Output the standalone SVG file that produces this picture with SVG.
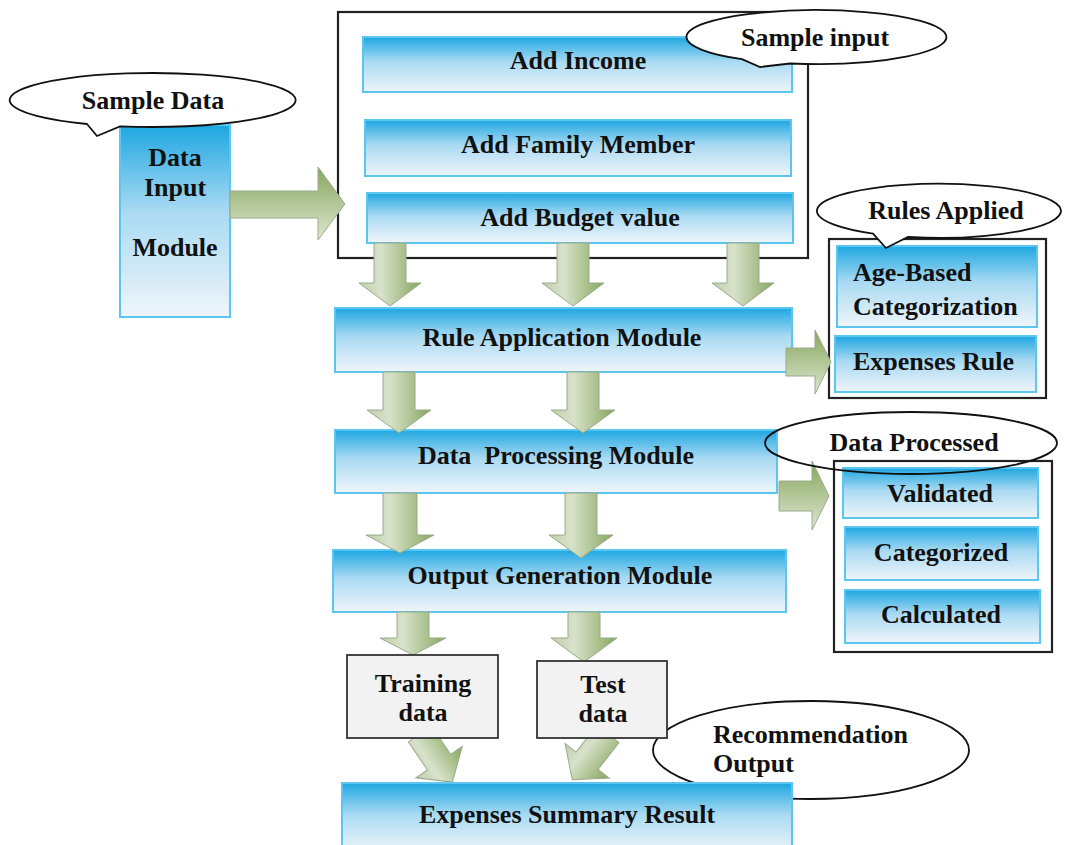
<svg xmlns="http://www.w3.org/2000/svg" width="1068" height="845" viewBox="0 0 1068 845">
<style>
text{font-family:"Liberation Serif","Times New Roman",serif;font-weight:bold;font-size:26px;fill:#111}
.c{text-anchor:middle}
.bar{fill:url(#blue);stroke:#5CC6F0;stroke-width:2}
.frame{fill:#fff;stroke:#222;stroke-width:2.2}
.gray{fill:#F2F2F2;stroke:#333;stroke-width:1.8}
.call{fill:#fff;stroke:#111;stroke-width:1.8}
.dn{fill:url(#gdn);stroke:#9AAA8C;stroke-width:1}
.rt{fill:url(#grt);stroke:#9AAA8C;stroke-width:1}
</style>
<defs>
<linearGradient id="blue" x1="0" y1="0" x2="0" y2="1">
<stop offset="0" stop-color="#1EA7E1"/><stop offset="0.45" stop-color="#A9DAF2"/><stop offset="1" stop-color="#EFF5FA"/>
</linearGradient>
<linearGradient id="gdn" x1="0" y1="0" x2="1" y2="0">
<stop offset="0" stop-color="#BFCDAA"/><stop offset="0.35" stop-color="#D8E2CA"/><stop offset="1" stop-color="#86A65E"/>
</linearGradient>
<linearGradient id="grt" x1="0" y1="0" x2="0" y2="1">
<stop offset="0" stop-color="#86A65E"/><stop offset="1" stop-color="#DDE7D0"/>
</linearGradient>
</defs>

<g id="input-container"><rect class="frame" x="338" y="12" width="470" height="246"/></g>
<g id="rules-container"><rect class="frame" x="829" y="239" width="217" height="159"/></g>
<g id="processed-container"><rect class="frame" x="834" y="461" width="218" height="191"/></g>

<g id="data-input-module"><rect class="bar" x="120" y="125" width="110" height="192"/>
<text class="c" x="175" y="166">Data</text><text class="c" x="175" y="196">Input</text><text class="c" x="175" y="256">Module</text></g>

<g id="add-income"><rect class="bar" x="363" y="37" width="429" height="55"/><text class="c" x="578" y="69">Add Income</text></g>
<g id="add-family"><rect class="bar" x="365" y="120" width="426" height="56"/><text class="c" x="578" y="153">Add Family Member</text></g>
<g id="add-budget"><rect class="bar" x="367" y="193" width="426" height="50"/><text class="c" x="580" y="226">Add Budget value</text></g>

<g id="rule-application"><rect class="bar" x="335" y="308" width="457" height="64"/><text class="c" x="562" y="346">Rule Application Module</text></g>
<g id="data-processing"><rect class="bar" x="335" y="430" width="442" height="63"/><text class="c" x="556" y="464" xml:space="preserve">Data  Processing Module</text></g>
<g id="output-generation"><rect class="bar" x="333" y="550" width="453" height="62"/><text class="c" x="560" y="584">Output Generation Module</text></g>

<g id="age-based"><rect class="bar" x="837" y="246" width="200" height="81"/><text x="853" y="281">Age-Based</text><text x="853" y="315">Categorization</text></g>
<g id="expenses-rule"><rect class="bar" x="835" y="336" width="201" height="56"/><text x="853" y="370">Expenses Rule</text></g>

<g id="validated"><rect class="bar" x="843" y="468" width="195" height="50"/><text class="c" x="940" y="502">Validated</text></g>
<g id="categorized"><rect class="bar" x="845" y="527" width="193" height="53"/><text class="c" x="941" y="561">Categorized</text></g>
<g id="calculated"><rect class="bar" x="845" y="590" width="195" height="53"/><text class="c" x="941" y="623">Calculated</text></g>

<g id="recommendation-output"><ellipse class="call" cx="811" cy="750" rx="158" ry="49"/><text x="713" y="743">Recommendation</text><text x="713" y="772">Output</text></g>

<g id="connectors">
<polygon class="rt" points="230,191 318,191 318,167 345,204 318,240 318,218 230,218"/>
<polygon class="dn" points="374,243 406,243 406,283 421,283 390,306 359,283 374,283"/>
<polygon class="dn" points="557,243 589,243 589,283 604,283 573,306 542,283 557,283"/>
<polygon class="dn" points="727,243 759,243 759,283 774,283 743,306 712,283 727,283"/>
<polygon class="rt" points="786,348 815,348 815,330 831,362 815,394 815,376 786,376"/>
<polygon class="dn" points="383,372 415,372 415,410 431,410 399,433 367,410 383,410"/>
<polygon class="dn" points="567,372 599,372 599,410 615,410 583,433 551,410 567,410"/>
<polygon class="rt" points="779,481 812,481 812,461 829,496 812,530 812,511 779,511"/>
<polygon class="dn" points="383,493 417,493 417,535 434,535 400,553 366,535 383,535"/>
<polygon class="dn" points="565,493 597,493 597,535 613,535 581,558 549,535 565,535"/>
<polygon class="dn" points="397,612 429,612 429,638 446,638 413,655 380,638 397,638"/>
<polygon class="dn" points="568,612 600,612 600,638 617,638 584,662 551,638 568,638"/>
<polygon class="dn" transform="translate(420,734) rotate(-34)" points="-14,0 14,0 14,34 28,34 0,58 -28,34 -14,34"/>
<polygon class="dn" transform="translate(608,734) rotate(38)" points="-14,0 14,0 14,34 28,34 0,58 -28,34 -14,34"/>
</g>

<g id="training-data"><rect class="gray" x="347" y="655" width="151" height="83"/><text class="c" x="423" y="692">Training</text><text class="c" x="423" y="721">data</text></g>
<g id="test-data"><rect class="gray" x="537" y="661" width="130" height="77"/><text class="c" x="603" y="693">Test</text><text class="c" x="603" y="722">data</text></g>

<g id="expenses-summary"><rect class="bar" x="342" y="783" width="450" height="70"/><text class="c" x="567" y="823">Expenses Summary Result</text></g>

<g id="sample-data"><path class="call" d="M120,126.3 A143,27 0 1 0 87,124 L97,136 Z"/><text class="c" x="153" y="109">Sample Data</text></g>
<g id="sample-input"><path class="call" d="M790,63.5 A130,27 0 1 0 742,59.2 L760,67 Z"/><text class="c" x="815" y="46">Sample input</text></g>
<g id="rules-applied"><path class="call" d="M908,237 A122,27 0 1 0 873,233.6 L886,248 Z"/><text class="c" x="946" y="219">Rules Applied</text></g>
<g id="data-processed"><ellipse cx="911" cy="443" rx="146" ry="31" fill="none" stroke="#111" stroke-width="1.8"/><text class="c" x="914" y="451">Data Processed</text></g>
</svg>
